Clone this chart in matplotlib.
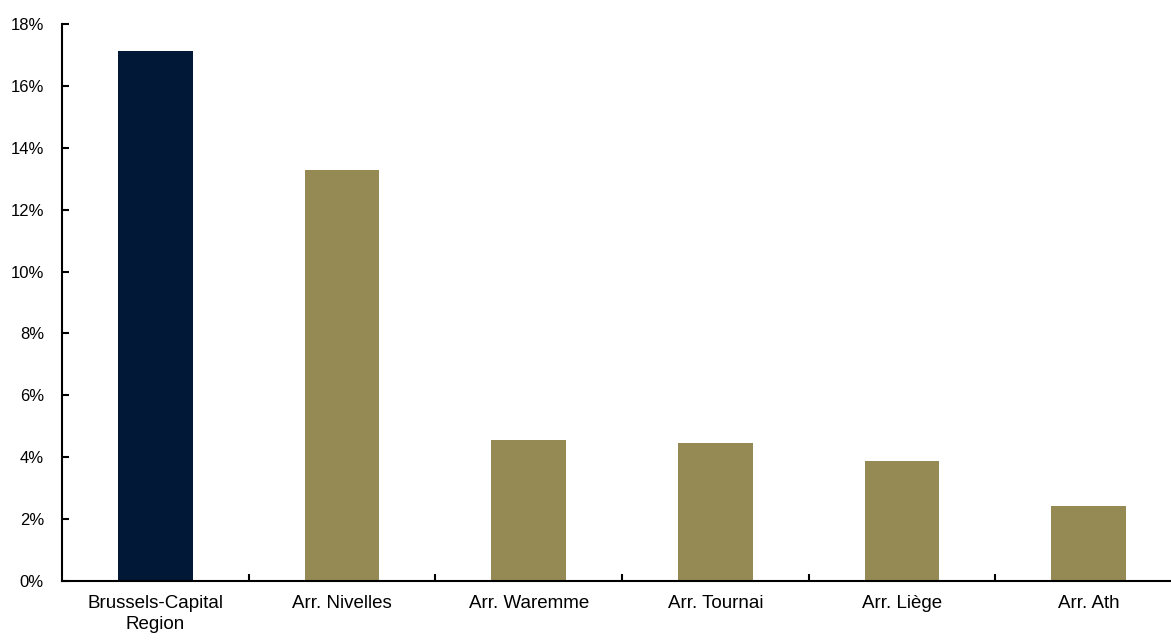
import matplotlib
matplotlib.use("Agg")
import matplotlib.pyplot as plt
from matplotlib.ticker import FuncFormatter, MultipleLocator

# Share of residents (%) by district
categories = ["Brussels-Capital\nRegion", "Arr. Nivelles", "Arr. Waremme",
              "Arr. Tournai", "Arr. Liège", "Arr. Ath"]
values = [17.13, 13.28, 4.56, 4.46, 3.88, 2.42]
bar_colors = ["#011936", "#958A54", "#958A54", "#958A54", "#958A54", "#958A54"]

plt.rcParams["font.family"] = ["Liberation Sans", "DejaVu Sans"]

fig = plt.figure(figsize=(11.71, 6.41), dpi=100)
ax = fig.add_axes([62 / 1171, 1 - 581 / 641, 1120 / 1171, (581 - 24) / 641])

x = list(range(len(categories)))
ax.bar(x, values, width=0.40, color=bar_colors, zorder=2)

ax.set_xlim(-0.5, len(categories) - 0.5)
ax.set_ylim(0, 18)
ax.yaxis.set_major_locator(MultipleLocator(2))
ax.yaxis.set_major_formatter(FuncFormatter(lambda v, _: f"{v:.0f}%"))

# Category labels centred under bars, tick marks at category boundaries
ax.set_xticks(x)
ax.set_xticklabels(categories, fontsize=13.5, linespacing=1.3)
ax.tick_params(axis="x", which="major", length=0, pad=10)
ax.set_xticks([i + 0.5 for i in x[:-1]], minor=True)
ax.tick_params(axis="x", which="minor", direction="in", length=5, width=1.5)

ax.tick_params(axis="y", direction="in", length=5, width=1.5, pad=13,
               labelsize=12)

for side in ("top", "right"):
    ax.spines[side].set_visible(False)
for side in ("left", "bottom"):
    ax.spines[side].set_linewidth(1.5)
    ax.spines[side].set_color("black")

fig.savefig("out.png", dpi=100, facecolor="white")
